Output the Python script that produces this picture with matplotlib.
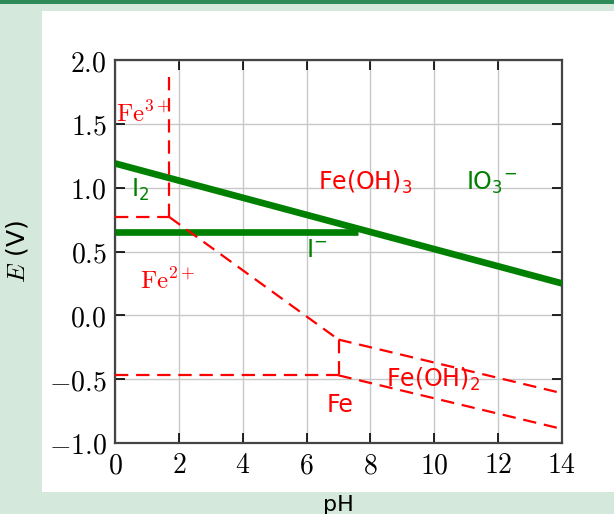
import matplotlib
matplotlib.use('Agg')
import matplotlib.pyplot as plt
from matplotlib.patches import Rectangle

plt.rcParams['mathtext.fontset'] = 'cm'

# iodine couples (green)
io3_ph = [0, 14]
io3_e = [1.19, 0.25]
i2_ph = [0, 7.6]
i2_e = [0.65, 0.65]

# iron couples (red dashed)
fe32_ph = [0, 1.7]
fe32_e = [0.77, 0.77]
fe3_vert_ph = [1.7, 1.7]
fe3_vert_e = [0.77, 1.92]
feoh3_fe2_ph = [1.7, 7.0]
feoh3_fe2_e = [0.77, -0.19]
feoh2_vert_ph = [7.0, 7.0]
feoh2_vert_e = [-0.19, -0.47]
fe2_fe_ph = [0, 7.0]
fe2_fe_e = [-0.47, -0.47]
feoh3_feoh2_ph = [7.0, 14]
feoh3_feoh2_e = [-0.19, -0.61]
feoh2_fe_ph = [7.0, 14]
feoh2_fe_e = [-0.47, -0.89]

xticks = [0, 2, 4, 6, 8, 10, 12, 14]
yticks = [-1.0, -0.5, 0.0, 0.5, 1.0, 1.5, 2.0]

fig = plt.figure(figsize=(6.14, 5.14), dpi=100, facecolor='#d5e8dc')
fig.patches.append(Rectangle((42 / 614, 1 - 492 / 514), 1 - 42 / 614, (492 - 11) / 514,
                             transform=fig.transFigure, facecolor='white',
                             edgecolor='none', zorder=-2))
fig.patches.append(Rectangle((0, 1 - 4 / 514), 1, 4 / 514, transform=fig.transFigure,
                             facecolor='#2e8b57', edgecolor='none', zorder=-2))

ax = fig.add_axes([115 / 614, 1 - 443 / 514, 447 / 614, 383 / 514])
ax.set_zorder(1)
ax.set_facecolor('white')

ax.plot(io3_ph, io3_e, color='green', lw=4.8, solid_capstyle='butt', zorder=3)
ax.plot(i2_ph, i2_e, color='green', lw=4.8, solid_capstyle='butt', zorder=3)

dash = dict(color='red', lw=1.6, ls=(0, (6, 3.5)), zorder=4)
for xs, ys in [(fe32_ph, fe32_e), (fe3_vert_ph, fe3_vert_e),
               (feoh3_fe2_ph, feoh3_fe2_e), (feoh2_vert_ph, feoh2_vert_e),
               (fe2_fe_ph, fe2_fe_e), (feoh3_feoh2_ph, feoh3_feoh2_e),
               (feoh2_fe_ph, feoh2_fe_e)]:
    ax.plot(xs, ys, **dash)

sans = dict(fontsize=17, ha='center', va='center', math_fontfamily='dejavusans', zorder=5)
serif = dict(fontsize=18, ha='center', va='center', zorder=5)
ax.text(0.02, 1.58, r'$\mathrm{Fe}^{3+}$', color='red', **{**serif, 'ha': 'left'})
ax.text(1.63, 0.27, r'$\mathrm{Fe}^{2+}$', color='red', **serif)
ax.text(7.83, 1.04, r'Fe(OH)$_3$', color='red', **sans)
ax.text(9.96, -0.5, r'Fe(OH)$_2$', color='red', **sans)
ax.text(7.05, -0.7, 'Fe', color='red', **sans)
ax.text(0.78, 0.98, r'I$_2$', color='green', **sans)
ax.text(11.8, 1.04, r'IO$_3{}^{-}$', color='green', **sans)
ax.text(6.33, 0.51, r'I$^{-}$', color='green', **sans)

ax.set_xlim(0, 14)
ax.set_ylim(-1.0, 2.0)
ax.set_xticks(xticks)
ax.set_xticklabels([f'${v}$' for v in xticks])
ax.set_yticks(yticks)
ax.set_yticklabels([f'${v:.1f}$' for v in yticks])
ax.grid(True, color='#c8c8c8', lw=1, zorder=1)
ax.set_axisbelow(True)
ax.tick_params(direction='in', length=7, width=1.2, top=True, right=True,
               labelsize=20, color='black', pad=6)
for s in ax.spines.values():
    s.set_color('#444444')
    s.set_linewidth(1.6)

ax.set_xlabel('pH', fontsize=16)
ax.xaxis.set_label_coords(0.5, -0.136)
ax.set_ylabel(r'$E$ (V)', fontsize=18)
ax.yaxis.set_label_coords(-0.19, 0.5)

fig.savefig('out.png', dpi=100, facecolor=fig.get_facecolor())
